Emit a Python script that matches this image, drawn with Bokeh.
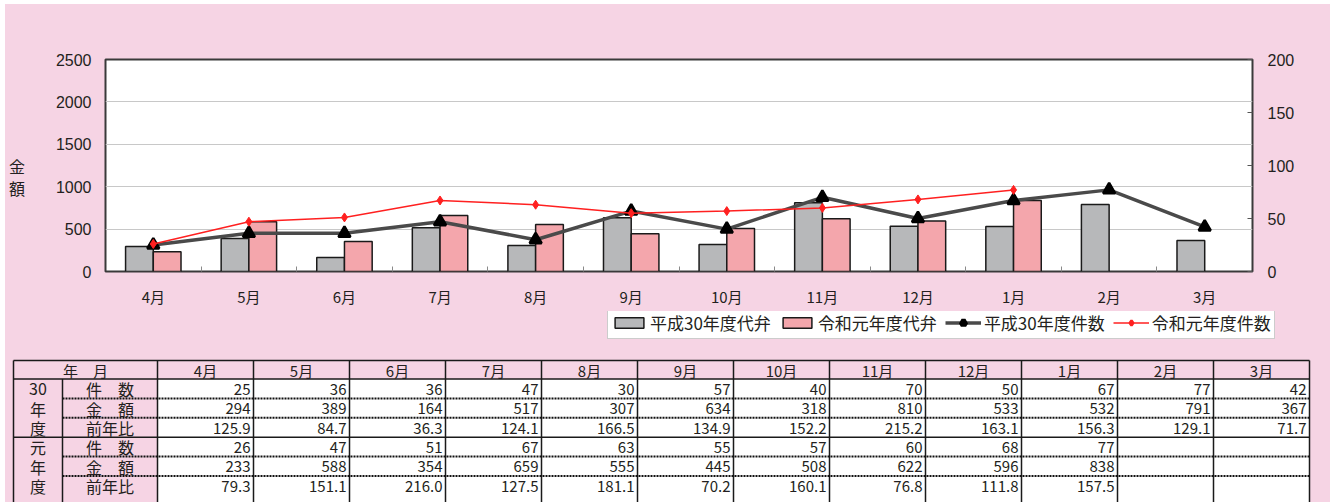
from bokeh.plotting import figure
from bokeh.models import (ColumnDataSource, Range1d, LinearAxis, FixedTicker, Legend,
                          LegendItem, CustomJSTickFormatter)
from bokeh.layouts import column
from bokeh.embed import file_html
from bokeh.resources import INLINE
from bokeh.core.properties import value
from bokeh.transform import dodge

# ---------------- data ----------------
months = ["4月", "5月", "6月", "7月", "8月", "9月", "10月", "11月", "12月", "1月", "2月", "3月"]
h30_count = [25, 36, 36, 47, 30, 57, 40, 70, 50, 67, 77, 42]
h30_amount = [294, 389, 164, 517, 307, 634, 318, 810, 533, 532, 791, 367]
h30_ratio = [125.9, 84.7, 36.3, 124.1, 166.5, 134.9, 152.2, 215.2, 163.1, 156.3, 129.1, 71.7]
r1_count = [26, 47, 51, 67, 63, 55, 57, 60, 68, 77]
r1_amount = [233, 588, 354, 659, 555, 445, 508, 622, 596, 838]
r1_ratio = [79.3, 151.1, 216.0, 127.5, 181.1, 70.2, 160.1, 76.8, 111.8, 157.5]
amount_ticks = [0, 500, 1000, 1500, 2000, 2500]
count_ticks = [0, 50, 100, 150, 200]
series_names = ["平成30年度代弁", "令和元年度代弁", "平成30年度件数", "令和元年度件数"]
group_labels = ["30", "年", "度", "元", "年", "度"]
row_labels = ["件　数", "金　額", "前年比", "件　数", "金　額", "前年比"]

PINK = "#f6d4e4"
TXT = "#231f20"
JP = "Noto Sans CJK JP"
GRAY_BAR = "#b7b8ba"
PINK_BAR = "#f4a6ac"
DARK_LINE = "#4a4a4a"
RED = "#ff2020"
W = 1325
H1 = 307
H2 = 191
NAN = float("nan")

# ---------------- chart ----------------
p = figure(width=W, height=H1, x_range=Range1d(0, len(months)), y_range=Range1d(0, 2500),
           output_backend="svg", toolbar_location=None,
           min_border_left=99, min_border_right=78, min_border_top=55, min_border_bottom=40,
           background_fill_color="white", border_fill_color=PINK,
           outline_line_color="#3a3a3a", outline_line_width=2)
p.extra_y_ranges = {"cnt": Range1d(0, 200)}

xs = [i + 0.5 for i in range(len(months))]
src_h = ColumnDataSource(dict(x=xs, amt=h30_amount, cnt=h30_count))
src_r = ColumnDataSource(dict(x=xs[:len(r1_amount)], amt=r1_amount, cnt=r1_count))

p.vbar(x=dodge("x", -0.145, range=p.x_range), top="amt", width=0.29, source=src_h,
       fill_color=GRAY_BAR, line_color="#1a1a1a", line_width=1.5)
p.vbar(x=dodge("x", 0.145, range=p.x_range), top="amt", width=0.29, source=src_r,
       fill_color=PINK_BAR, line_color="#1a1a1a", line_width=1.5)
p.line(x="x", y="cnt", source=src_h, y_range_name="cnt", line_color=DARK_LINE, line_width=3.5)
p.scatter(x="x", y="cnt", source=src_h, y_range_name="cnt", marker="triangle",
          size=12, fill_color="black", line_color="black", line_width=2.5)
p.line(x="x", y="cnt", source=src_r, y_range_name="cnt", line_color=RED, line_width=1.5)
p.scatter(x="x", y="cnt", source=src_r, y_range_name="cnt", marker="diamond",
          size=9, fill_color=RED, line_color=RED, line_width=1)

# x axis
xa = p.xaxis[0]
xa.ticker = FixedTicker(ticks=xs, minor_ticks=list(range(1, len(months))))
xa.formatter = CustomJSTickFormatter(args=dict(labels=months),
                                     code="return labels[Math.floor(tick)]")
xa.axis_line_color = None
xa.major_tick_in = 0
xa.major_tick_out = 0
xa.minor_tick_in = 5
xa.minor_tick_out = 0
xa.minor_tick_line_color = "#8a8a8a"
xa.major_label_standoff = 14
xa.major_label_text_font = JP
xa.major_label_text_font_size = "15px"
xa.major_label_text_color = TXT

# left axis
ya = p.yaxis[0]
ya.ticker = FixedTicker(ticks=amount_ticks)
ya.axis_line_color = None
ya.major_tick_in = 0
ya.major_tick_out = 0
ya.minor_tick_line_color = None
ya.major_label_standoff = 14
ya.major_label_text_font = "Liberation Sans"
ya.major_label_text_font_size = "16px"
ya.major_label_text_color = TXT
ya.axis_label = "\n金\n額"
ya.axis_label_orientation = "horizontal"
ya.axis_label_text_font = JP
ya.axis_label_text_font_style = "normal"
ya.axis_label_text_font_size = "16px"
ya.axis_label_text_line_height = 0.95
ya.axis_label_text_color = TXT
ya.axis_label_standoff = 28

# right axis
ra = LinearAxis(y_range_name="cnt", ticker=FixedTicker(ticks=count_ticks))
ra.axis_line_color = None
ra.major_tick_in = 5
ra.major_tick_out = 0
ra.major_tick_line_color = "#555555"
ra.minor_tick_line_color = None
ra.major_label_standoff = 15
ra.major_label_text_font = "Liberation Sans"
ra.major_label_text_font_size = "16px"
ra.major_label_text_color = TXT
p.add_layout(ra, "right")

p.xgrid.visible = False
p.ygrid.ticker = FixedTicker(ticks=amount_ticks)
p.ygrid.grid_line_color = "#c8c8c8"
p.ygrid.grid_line_width = 1

# ---------------- legend + table ----------------
t = figure(width=W, height=H2, x_range=Range1d(0, W), y_range=Range1d(H2, 0),
           output_backend="svg", toolbar_location=None, min_border=0,
           x_axis_location=None, y_axis_location=None,
           background_fill_color=PINK, border_fill_color=PINK, outline_line_color=None)
t.grid.visible = False
for fig in (p, t):
    if "frame_align" in fig.properties():
        fig.frame_align = False

# legend-only swatch renderers (a single NaN point, so nothing is drawn in the plot)
lg_bh = t.vbar(x=[NAN], top=[NAN], width=1, fill_color=GRAY_BAR,
               line_color="#1a1a1a", line_width=1.5)
lg_br = t.vbar(x=[NAN], top=[NAN], width=1, fill_color=PINK_BAR,
               line_color="#1a1a1a", line_width=1.5)
lg_lh = t.line(x=[NAN], y=[NAN], line_color=DARK_LINE, line_width=3.5)
lg_mh = t.scatter(x=[NAN], y=[NAN], marker="triangle", size=6, fill_color="black",
                  line_color="black", line_width=4.5)
lg_lr = t.line(x=[NAN], y=[NAN], line_color=RED, line_width=1.5)
lg_mr = t.scatter(x=[NAN], y=[NAN], marker="diamond", size=6, fill_color=RED,
                  line_color=RED, line_width=2.5)
legend = Legend(items=[LegendItem(label=series_names[0], renderers=[lg_bh], index=0),
                       LegendItem(label=series_names[1], renderers=[lg_br], index=0),
                       LegendItem(label=series_names[2], renderers=[lg_lh, lg_mh], index=0),
                       LegendItem(label=series_names[3], renderers=[lg_lr, lg_mr], index=0)],
                orientation="horizontal", location=(602, H2 - 28),
                border_line_color="#9a9a9a", border_line_width=1,
                background_fill_color="white", background_fill_alpha=1,
                label_text_font=JP, label_text_font_size="17px", label_text_color=TXT,
                glyph_width=36, glyph_height=13, label_standoff=3, label_height=16,
                spacing=8, padding=3, margin=0)
t.add_layout(legend)

TOP = 48
X0, XS, XM, CW = 8, 57, 152, 96
XE = XM + CW * len(months)
Y0, YH = TOP + 1, TOP + 19.5
RH = 19.4
YE = H2

t.quad(left=[XM], right=[XE], bottom=[YE], top=[YH], fill_color="white", line_color=None)

# solid lines
hs_y = [Y0, YH, YH + 3 * RH]
t.segment(x0=[X0] * len(hs_y), x1=[XE] * len(hs_y), y0=hs_y, y1=hs_y,
          line_color="#1a1a1a", line_width=1.5)
vx = [X0, XM] + [XM + CW * (i + 1) for i in range(len(months))]
t.segment(x0=vx, x1=vx, y0=[Y0] * len(vx), y1=[YE] * len(vx),
          line_color="#1a1a1a", line_width=1.5)
t.segment(x0=[XS], x1=[XS], y0=[YH], y1=[YE], line_color="#1a1a1a", line_width=1.5)
# dotted lines
dy = [YH + RH, YH + 2 * RH, YH + 4 * RH, YH + 5 * RH]
t.segment(x0=[XS] * len(dy), x1=[XE] * len(dy), y0=dy, y1=dy,
          line_color="#111111", line_width=2, line_dash="2 1")

# header text
hdr_x = [(X0 + XM) / 2] + [XM + CW * (i + 0.5) for i in range(len(months))]
hdr_t = ["年　月"] + months
t.text(x=hdr_x, y=[(Y0 + YH) / 2 + 0.5] * len(hdr_x), text=hdr_t,
       text_font=value(JP), text_font_size="15px", text_color=TXT,
       text_align="center", text_baseline="middle")

row_y = [YH + RH * (k + 0.5) + 0.5 for k in range(6)]
t.text(x=[(X0 + XS) / 2] * 6, y=row_y, text=group_labels,
       text_font=value(JP), text_font_size="16px", text_color=TXT,
       text_align="center", text_baseline="middle")
t.text(x=[(XS + XM) / 2] * 6, y=row_y, text=row_labels,
       text_font=value(JP), text_font_size="16px", text_color=TXT,
       text_align="center", text_baseline="middle")

rows = [[str(v) for v in h30_count], [str(v) for v in h30_amount],
        [f"{v:.1f}" for v in h30_ratio], [str(v) for v in r1_count],
        [str(v) for v in r1_amount], [f"{v:.1f}" for v in r1_ratio]]
cx, cy, ct = [], [], []
for k, r in enumerate(rows):
    for i, s in enumerate(r):
        cx.append(XM + CW * (i + 1) - 3)
        cy.append(row_y[k])
        ct.append(s)
t.text(x=cx, y=cy, text=ct, text_font=value(JP), text_font_size="15px", text_color=TXT,
       text_align="right", text_baseline="middle")

layout = column(p, t, spacing=0, margin=(4, 0, 0, 5), styles={"background-color": PINK})
open("out.html", "w").write(file_html(layout, INLINE))
